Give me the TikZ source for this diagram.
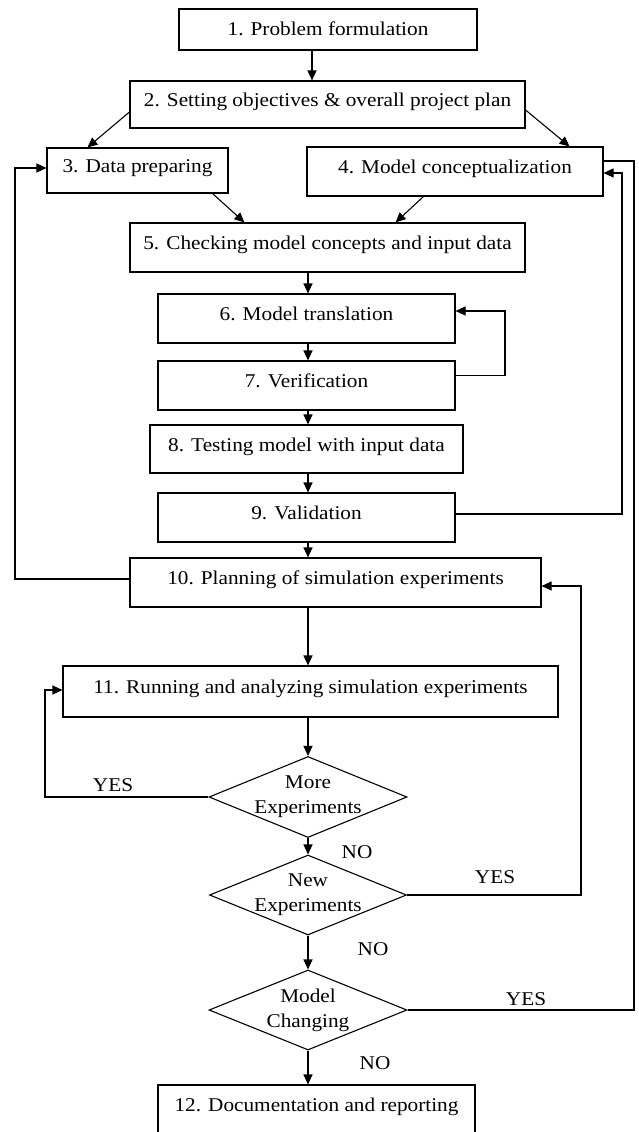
\documentclass[tikz,border=0pt]{standalone}
\usepackage{fontspec}
\setmainfont{Liberation Serif}[FakeStretch=1.09]
\usetikzlibrary{arrows.meta,calc,shapes.geometric}
\begin{document}
\begin{tikzpicture}[x=1pt,y=-1pt,
  box/.style={draw, line width=1.1pt, inner sep=0pt, text height=13pt, text depth=9pt,
              font=\fontsize{19.5}{25}\selectfont},
  dia/.style={draw, line width=1.1pt, shape=diamond, inner sep=0pt},
  dtext/.style={align=center, inner sep=0pt, font=\fontsize{19.5}{25}\selectfont},
  lab/.style={inner sep=0pt, font=\fontsize{19.5}{25}\selectfont},
  conn/.style={line width=1.1pt},
  arr/.style={line width=1.1pt, -{Triangle[length=10pt,width=9pt]}}]
\useasboundingbox (0,0) rectangle (638,1132);
\fill[white] (0,0) rectangle (638,1132);

% guide coordinates
\coordinate (s1) at (312,0);
\coordinate (sp) at (308,0);
\coordinate (lout) at (15,0);
\coordinate (lin) at (45,0);
\coordinate (loop) at (505,0);
\coordinate (rmid) at (581,0);
\coordinate (rin) at (622,0);
\coordinate (rout) at (634,0);

% boxes
\node[box, text depth=0pt, minimum width=298pt, minimum height=41pt] (b1) at (328,29.5) {1. Problem formulation};
\node[box, minimum width=395pt, minimum height=47pt] (b2) at (327.5,104.5) {2. Setting objectives \& overall project plan};
\node[box, minimum width=181pt, minimum height=45pt] (b3) at (137.5,170.5) {3. Data preparing};
\node[box, minimum width=296pt, minimum height=49pt] (b4) at (455,171.5) {4. Model conceptualization};
\node[box, minimum width=395pt, minimum height=49pt] (b5) at (327.5,247.5) {5. Checking model concepts and input data};
\node[box, minimum width=297pt, minimum height=49pt] (b6) at (306.5,318.5) {6. Model translation};
\node[box, minimum width=297pt, minimum height=49pt] (b7) at (306.5,385.5) {7. Verification};
\node[box, minimum width=313pt, minimum height=48pt] (b8) at (306.5,449) {8. Testing model with input data};
\node[box, minimum width=297pt, minimum height=49pt] (b9) at (306.5,517.5) {9. Validation};
\node[box, minimum width=411pt, minimum height=49pt] (b10) at (335.5,582.5) {10. Planning of simulation experiments};
\node[box, minimum width=495pt, minimum height=51pt] (b11) at (310.5,691.5) {11. Running and analyzing simulation experiments};

% decisions
\node[dia, minimum width=198pt, minimum height=81pt] (d1) at (308,797) {};
\node[dtext] (d1t) at (308,797) {More\\Experiments};
\node[dia, minimum width=197pt, minimum height=80pt] (d2) at (308,895) {};
\node[dtext] (d2t) at (308,895) {New\\Experiments};
\node[dia, minimum width=198pt, minimum height=80pt] (d3) at (308,1010) {};
\node[dtext] (d3t) at (308,1010) {Model\\Changing};

\node[box, minimum width=317pt, minimum height=49pt] (b12) at (316.5,1109.5) {12. Documentation and reporting};

% labels
\node[lab] (y1) at (113,785) {YES};
\node[lab] (n1) at (357,852) {NO};
\node[lab] (y2) at (495,877) {YES};
\node[lab] (n2) at (373,949.5) {NO};
\node[lab] (y3) at (526,999.5) {YES};
\node[lab] (n3) at (375,1063) {NO};

% main flow
\draw[arr] (b1.south -| s1) -- (b2.north -| s1);
\draw[arr] ($(b2.west)+(0,7.5)$) -- ($(b3.north west)+(41,0)$);
\draw[arr] ($(b2.east)+(0,5.5)$) -- ($(b4.north east)+(-34,0)$);
\draw[arr] ($(b3.south east)+(-16,0)$) -- ($(b5.north west)+(115,0)$);
\draw[arr] ($(b4.south west)+(117,0)$) -- ($(b5.north east)+(-130,0)$);
\draw[arr] (b5.south -| sp) -- (b6.north -| sp);
\draw[arr] (b6.south -| sp) -- (b7.north -| sp);
\draw[arr] (b7.south -| sp) -- (b8.north -| sp);
\draw[arr] (b8.south -| sp) -- (b9.north -| sp);
\draw[arr] (b9.south -| sp) -- (b10.north -| sp);
\draw[arr] (b10.south -| sp) -- (b11.north -| sp);
\draw[arr] (b11.south -| sp) -- (d1.north);
\draw[arr] (d1.south) -- (d2.north);
\draw[arr] (d2.south) -- (d3.north);
\draw[arr] (d3.south) -- (b12.north -| d3.south);

% loops
\draw[arr] ($(b7.north east)+(0,15)$) coordinate (p7) -- (p7 -| loop) |- ($(b6.east)+(0,-7.5)$);
\draw[arr] ($(b9.east)+(0,-3.5)$) coordinate (p9) -- (p9 -| rin) |- ($(b4.east)+(0,1.5)$);
\draw[arr] ($(b10.west)+(0,-3.5)$) coordinate (p10) -- (p10 -| lout) |- ($(b3.west)+(0,-2.5)$);
\draw[arr] (d1.west) -- (d1.west -| lin) |- ($(b11.west)+(0,-1.5)$);
\draw[arr] (d2.east) -- (d2.east -| rmid) |- ($(b10.east)+(0,3.5)$);
\draw[conn] (d3.east) -- (d3.east -| rout) |- ($(b4.east)+(0,-10.5)$);
\end{tikzpicture}
\end{document}
